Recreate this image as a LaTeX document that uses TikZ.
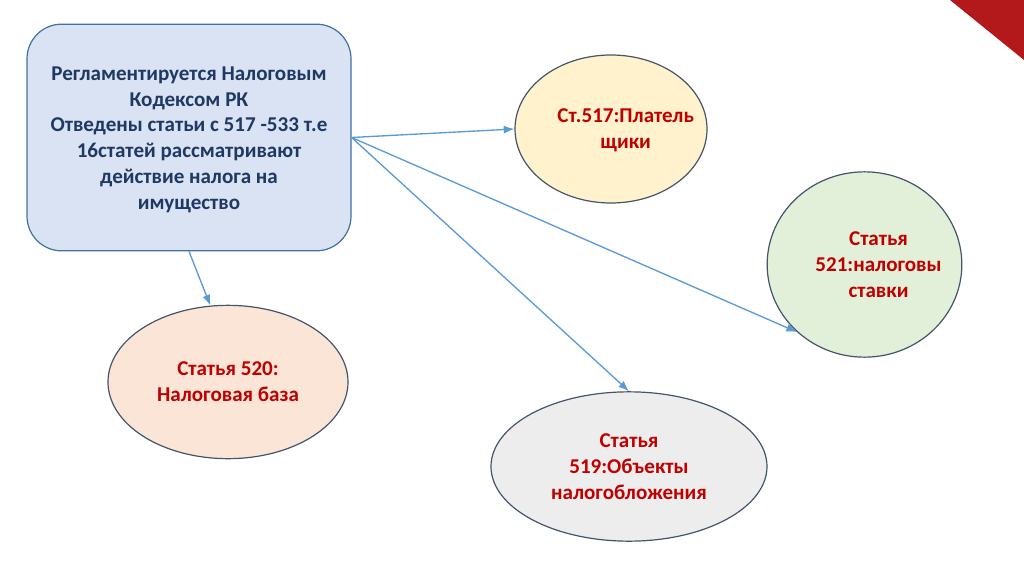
\documentclass[tikz,border=0pt]{standalone}
\usepackage{fontspec}
\setmainfont{Carlito}
\usepackage{xcolor}
\usetikzlibrary{shapes.geometric, positioning, arrows.meta}

\definecolor{boxfill}{HTML}{DAE3F3}
\definecolor{boxline}{HTML}{41719C}
\definecolor{navytext}{HTML}{1F3864}
\definecolor{redtext}{HTML}{C00000}
\definecolor{arrowblue}{HTML}{5B9BD5}
\definecolor{ellline}{HTML}{44546A}
\definecolor{cornerred}{HTML}{B3181B}
\definecolor{fillyellow}{HTML}{FFF2CC}
\definecolor{fillgreen}{HTML}{E2F0D9}
\definecolor{fillpeach}{HTML}{FBE5D6}
\definecolor{fillgray}{HTML}{EDEDED}

\begin{document}
\begin{tikzpicture}[x=0.75pt,y=-0.75pt,
                    main box/.style={rectangle,rounded corners=26pt,draw=boxline,line width=0.9pt,fill=boxfill,
                      minimum width=243pt,minimum height=170pt,align=center,text=navytext,
                      font=\fontsize{15.8}{19.3}\selectfont\bfseries},
                    art node/.style={ellipse,draw=ellline,line width=0.9pt,align=center,text=redtext,inner sep=0pt,
                      font=\fontsize{15.8}{19.5}\selectfont\bfseries},
                    art text/.style={text=redtext,align=center,font=\fontsize{15.8}{19.5}\selectfont\bfseries},
                    link/.style={-{Latex[length=8pt,width=6pt]},draw=arrowblue,line width=1pt}]

  \useasboundingbox (0,0) rectangle (1024,574);
  \fill[cornerred] (950,0) -- (1024,0) -- (1024,60) -- cycle;

  \node[main box] (reg) at (189,137.5) {\strut Регламентируется Налоговым\\Кодексом РК\\Отведены статьи с 517 -533 т.е\\16статей рассматривают\\действие налога на\\имущество};
  \node[art node,fill=fillyellow,minimum width=144pt,minimum height=111pt,
        label={[art text,xshift=11pt,yshift=-1pt]center:Ст.517:Платель\\щики}] (s517) at (611,129) {};
  \node[art node,fill=fillgreen,minimum width=146pt,minimum height=139pt,
        label={[art text,xshift=10.5pt]center:Статья\\521:налоговы\\ставки}] (s521) at (864.5,264.5) {};
  \node[art node,fill=fillpeach,minimum width=180pt,minimum height=115pt] (s520) at (228,382) {Статья 520:\\Налоговая база};
  \node[art node,fill=fillgray,minimum width=207pt,minimum height=112pt] (s519) at (629,466.5) {Статья\\519:Объекты\\налогобложения};

  \path
    (reg.east) edge[link] (s517.west)
    (reg.east) edge[link] (s521.225)
    (reg.east) edge[link] (s519.north)
    (reg.south) edge[link] (s520.103)
    ;
\end{tikzpicture}
\end{document}
